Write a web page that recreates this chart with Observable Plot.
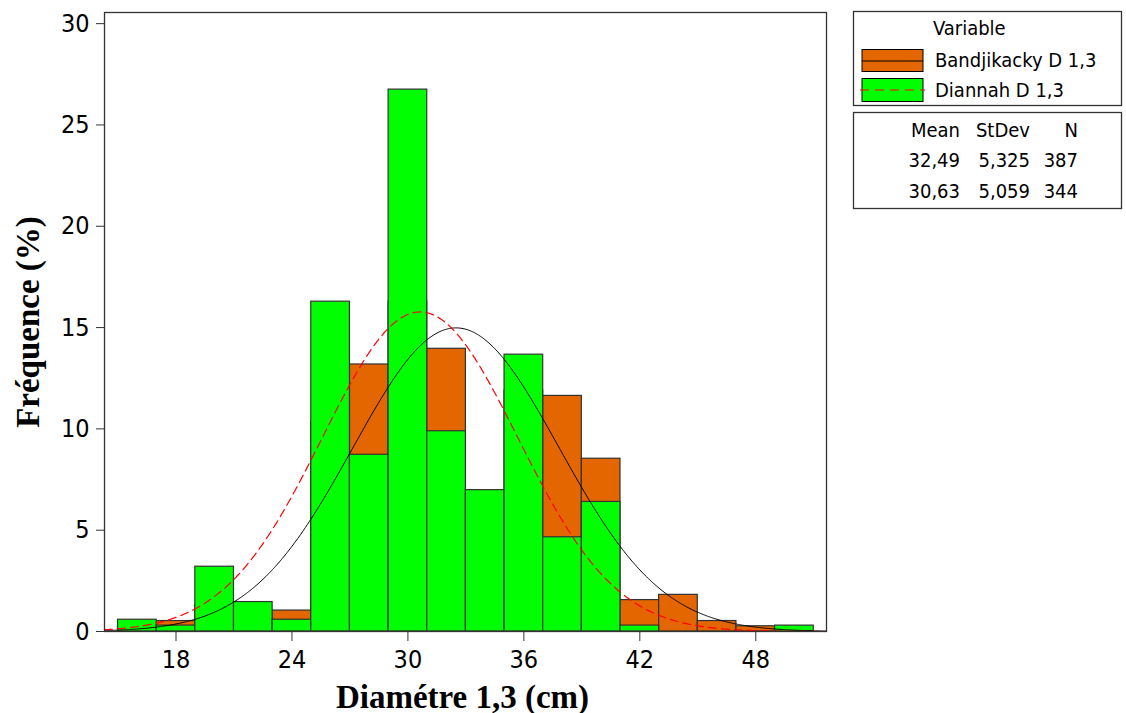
<!DOCTYPE html>
<html>
<head>
<meta charset="utf-8">
<script src="https://cdn.jsdelivr.net/npm/d3@7"></script>
<script src="https://cdn.jsdelivr.net/npm/@observablehq/plot@0.6"></script>
<style>
  html, body { margin: 0; padding: 0; background: #fff; }
  #wrap { position: relative; width: 1126px; height: 713px; }
  #legend { position: absolute; left: 0; top: 0; pointer-events: none; }
  .tick-font { font-family: "DejaVu Sans", sans-serif; font-stretch: condensed; }
</style>
</head>
<body>
<div id="wrap"></div>
<script>
// Histogram bins (width 2 cm), identified by their centres
const binCenters = [16, 18, 20, 22, 24, 26, 28, 30, 32, 34, 36, 38, 40, 42, 44, 46, 48, 50];
// Tree counts per bin for each site
const bandjikackyCounts = [1, 2, 5, 4, 4, 40, 51, 63, 54, 23, 46, 45, 33, 6, 7, 2, 1, 0];
const diannahCounts     = [2, 1, 11, 5, 2, 56, 30, 92, 34, 24, 47, 16, 22, 1, 0, 0, 0, 1];

// Summary statistics shown in the legend
const seriesNames = ["Bandjikacky D 1,3", "Diannah D 1,3"];
const means = [32.49, 30.63];
const stdDevs = [5.325, 5.059];
const counts = [387, 344];

const xTicks = [18, 24, 30, 36, 42, 48];
const yTicks = [0, 5, 10, 15, 20, 25, 30];

const orange = "#E36600";
const green = "#00FF00";
const outline = "#333333";

const binWidth = 2;
const xDomain = [14.3, 51.66];
const yDomain = [0, 30.55];

function toPercentBars(cnts, n) {
  return binCenters.map((c, i) => ({x1: c - binWidth / 2, x2: c + binWidth / 2, pct: 100 * cnts[i] / n}))
    .filter(d => d.pct > 0);
}
const bandBars = toPercentBars(bandjikackyCounts, counts[0]);
const diaBars = toPercentBars(diannahCounts, counts[1]);

// Fitted normal curves, scaled to percent per bin
function normalCurve(mu, sd) {
  const k = binWidth * 100 / (sd * Math.sqrt(2 * Math.PI));
  return d3.range(xDomain[0], xDomain[1] + 1e-9, 0.05)
    .map(x => ({x, y: k * Math.exp(-0.5 * ((x - mu) / sd) ** 2)}));
}
const bandCurve = normalCurve(means[0], stdDevs[0]);
const diaCurve = normalCurve(means[1], stdDevs[1]);

const tickFont = "DejaVu Sans";
const titleFont = "'Liberation Serif', 'Times New Roman', serif";

const chart = Plot.plot({
  width: 1126,
  height: 713,
  marginLeft: 104,
  marginRight: 300,
  marginTop: 12,
  marginBottom: 82,
  style: {background: "#fff", color: "#000"},
  x: {domain: xDomain},
  y: {domain: yDomain},
  marks: [
    Plot.rectY(bandBars, {x1: "x1", x2: "x2", y: "pct", fill: orange, stroke: outline, strokeWidth: 1.2}),
    Plot.rectY(diaBars, {x1: "x1", x2: "x2", y: "pct", fill: green, stroke: outline, strokeWidth: 1.2}),
    Plot.line(bandCurve, {x: "x", y: "y", stroke: "#000", strokeWidth: 1}),
    Plot.line(diaCurve, {x: "x", y: "y", stroke: "#ff0000", strokeWidth: 1.2, strokeDasharray: "8,5"}),
    Plot.frame({stroke: outline, strokeWidth: 1.3}),
    Plot.axisX({ticks: xTicks, tickSize: 10, tickPadding: 9, label: null, fontSize: 25,
      fontFamily: tickFont, className: "tick-font", stroke: outline}),
    Plot.axisY({ticks: yTicks, tickSize: 8, tickPadding: 7, label: null, fontSize: 25,
      fontFamily: tickFont, className: "tick-font", stroke: outline}),
    Plot.text(["Fréquence (%)"], {frameAnchor: "left", textAnchor: "middle", rotate: -90, dx: -76,
      fontSize: 33, fontWeight: "bold", fontFamily: titleFont, fill: "#000"}),
    Plot.text(["Diamétre 1,3 (cm)"], {frameAnchor: "bottom", dx: -3, dy: 76, fontSize: 33,
      fontWeight: "bold", fontFamily: titleFont, fill: "#000"})
  ]
});
document.getElementById("wrap").appendChild(chart);

// Legend panels beside the plot
const svg = d3.select("#wrap").append("svg")
  .attr("id", "legend").attr("width", 1126).attr("height", 713)
  .style("font-family", tickFont).style("font-stretch", "condensed");

svg.append("rect").attr("x", 853.5).attr("y", 11.5).attr("width", 268).attr("height", 94)
  .attr("fill", "#fff").attr("stroke", outline).attr("stroke-width", 1.3);
svg.append("rect").attr("x", 853.5).attr("y", 112.5).attr("width", 268).attr("height", 96)
  .attr("fill", "#fff").attr("stroke", outline).attr("stroke-width", 1.3);

svg.append("text").attr("x", 933).attr("y", 35).attr("font-size", 20).text("Variable");

// Swatch: Bandjikacky (orange bar, solid black curve)
svg.append("rect").attr("x", 862).attr("y", 49.5).attr("width", 61).attr("height", 22)
  .attr("fill", orange).attr("stroke", "#000").attr("stroke-width", 1);
svg.append("line").attr("x1", 862).attr("x2", 923).attr("y1", 61).attr("y2", 61)
  .attr("stroke", "#000").attr("stroke-width", 1);
svg.append("text").attr("x", 935).attr("y", 67).attr("font-size", 20).text(seriesNames[0]);

// Swatch: Diannah (green bar, dashed red curve)
svg.append("rect").attr("x", 862).attr("y", 78.5).attr("width", 61).attr("height", 23)
  .attr("fill", green).attr("stroke", "#000").attr("stroke-width", 1);
svg.append("line").attr("x1", 860).attr("x2", 925).attr("y1", 90).attr("y2", 90)
  .attr("stroke", "#ff0000").attr("stroke-width", 1).attr("stroke-dasharray", "9,6");
svg.append("text").attr("x", 935).attr("y", 96.5).attr("font-size", 20).text(seriesNames[1]);

// Summary table
const colRight = [960, 1030, 1078];
const fmt = (v, d) => v.toFixed(d).replace(".", ",");
const header = ["Mean", "StDev", "N"];
header.forEach((h, j) => svg.append("text").attr("x", colRight[j]).attr("y", 137)
  .attr("text-anchor", "end").attr("font-size", 20).text(h));
[0, 1].forEach(i => {
  const row = [fmt(means[i], 2), fmt(stdDevs[i], 3), String(counts[i])];
  row.forEach((v, j) => svg.append("text").attr("x", colRight[j]).attr("y", 167 + i * 31)
    .attr("text-anchor", "end").attr("font-size", 20).text(v));
});
</script>
</body>
</html>
